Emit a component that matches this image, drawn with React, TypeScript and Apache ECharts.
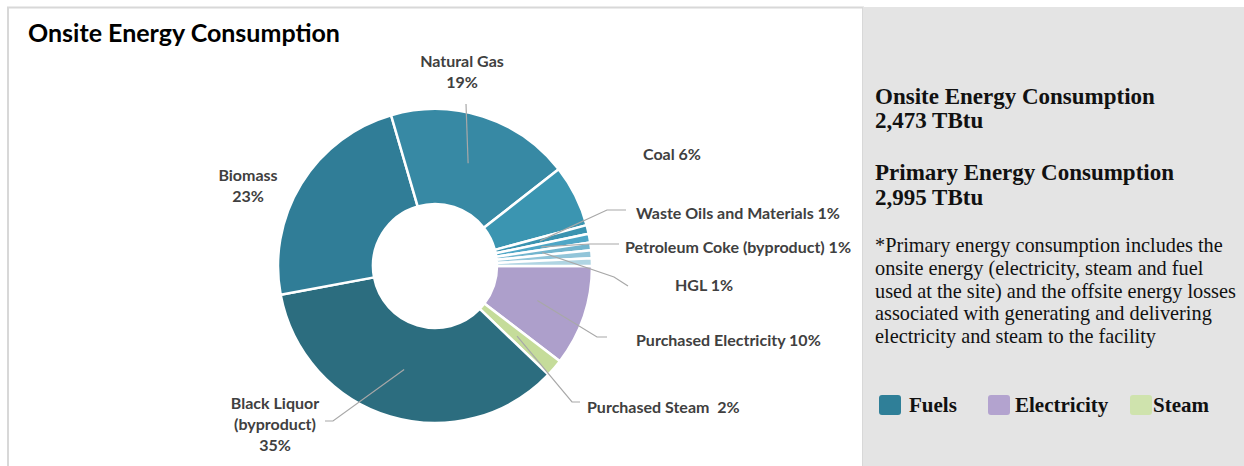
import React, { useEffect, useRef } from "react";
import * as echarts from "echarts";

// ---- data ----
const sliceNames = [
  "Purchased Electricity",
  "Purchased Steam",
  "Black Liquor (byproduct)",
  "Biomass",
  "Natural Gas",
  "Coal",
  "Waste Oils and Materials",
  "Petroleum Coke (byproduct)",
  "HGL",
  "Other A",
  "Other B",
];
const sliceValues = [10.4, 1.8, 35, 23.5, 19, 6.4, 0.9, 0.9, 0.8, 0.8, 0.8];
const sliceLabels = [
  "Purchased Electricity 10%",
  "Purchased Steam  2%",
  "Black Liquor\n(byproduct)\n35%",
  "Biomass\n23%",
  "Natural Gas\n19%",
  "Coal 6%",
  "Waste Oils and Materials 1%",
  "Petroleum Coke (byproduct) 1%",
  "HGL 1%",
  "",
  "",
];
const legendNames = ["Fuels", "Electricity", "Steam"];
const summaryLines = [
  "Onsite Energy Consumption",
  "2,473 TBtu",
  "Primary Energy Consumption",
  "2,995 TBtu",
];
const noteText =
  "*Primary energy consumption includes the\nonsite energy (electricity, steam and fuel\nused at the site) and the offsite energy losses\nassociated with generating and delivering\nelectricity and steam to the facility";

// ---- styles ----
const sliceColors = [
  "#ad9fcb",
  "#c5dc9a",
  "#2c6d7f",
  "#307d97",
  "#3789a4",
  "#3b95b1",
  "#3a93b0",
  "#4ea6c6",
  "#72b5ce",
  "#92c5d9",
  "#b0d5e3",
];
const legendColors = ["#2f7f98", "#b3a3cf", "#cfe3ad"];

const CX = 435;
const CY = 266;
const R_IN = 62;
const R_OUT = 157;
const LINE_R = 108;
const LABEL_FONT = "Lato, 'Open Sans', sans-serif";

// label placement (layout only)
const labelPlacement: any[] = [
  { x: 636, y: 339, align: "left", bend: [[597, 337], [607, 337]] },
  { x: 587, y: 406, align: "left", bend: [[572, 402], [580, 402]] },
  { x: 275, y: 423, align: "center", bend: [[333, 421], [325, 421]] },
  { x: 248, y: 185, align: "center" },
  { x: 462, y: 71, align: "center", bend: [[466, 104]] },
  { x: 643, y: 153, align: "left" },
  { x: 636, y: 212, align: "left", bend: [[607, 210], [626, 210]] },
  { x: 625, y: 246, align: "left", bend: [[590, 244], [619, 244]] },
  { x: 675, y: 284, align: "left", bend: [[614, 277], [628, 286]] },
  null,
  null,
];

const total = sliceValues.reduce((a, b) => a + b, 0);
function midAngle(i: number) {
  let s = 0;
  for (let j = 0; j < i; j++) s += sliceValues[j];
  return ((s + sliceValues[i] / 2) / total) * Math.PI * 2;
}

export default function App() {
  const ref = useRef<HTMLDivElement>(null);
  useEffect(() => {
    if (!ref.current) return;
    const chart = echarts.init(ref.current, undefined, { renderer: "svg" });
    const serif = "'Liberation Serif', 'Times New Roman', serif";
    const graphics: any[] = [
      {
        type: "rect",
        z: -10,
        silent: true,
        shape: { x: 8, y: 7.5, width: 855, height: 470 },
        style: { fill: "#ffffff", stroke: "#d8d8d8", lineWidth: 2 },
      },
      {
        type: "rect",
        z: -9,
        silent: true,
        shape: { x: 863, y: 7, width: 381, height: 459 },
        style: { fill: "#e4e4e4" },
      },
      {
        type: "text",
        x: 28,
        y: 32,
        style: {
          text: "Onsite Energy Consumption",
          font: "bold 25px Lato, 'Open Sans', sans-serif",
          fill: "#000000",
          verticalAlign: "middle",
        },
      },
    ];
    // leader lines, starting at the middle of each slice's ring
    labelPlacement.forEach((cfg, i) => {
      if (!cfg || !cfg.bend) return;
      const a = midAngle(i);
      const start = [CX + LINE_R * Math.cos(a), CY + LINE_R * Math.sin(a)];
      graphics.push({
        type: "polyline",
        z: 50,
        silent: true,
        shape: { points: [start, ...cfg.bend] },
        style: { stroke: "#a8a8a8", lineWidth: 1.2, fill: null },
      });
    });
    const headY = [96, 120, 172, 197];
    summaryLines.forEach((t, i) => {
      graphics.push({
        type: "text",
        x: 875,
        y: headY[i],
        style: {
          text: t,
          font: `bold 23px ${serif}`,
          fill: "#111111",
          verticalAlign: "middle",
        },
      });
    });
    graphics.push({
      type: "text",
      x: 875,
      y: 234,
      style: {
        text: noteText,
        font: `20.3px ${serif}`,
        lineHeight: 22.7,
        fill: "#111111",
        verticalAlign: "top",
      },
    });
    const legX = [879, 988, 1130];
    const legTextX = [909, 1015, 1153];
    legendNames.forEach((n, i) => {
      graphics.push({
        type: "rect",
        shape: { x: legX[i], y: 395, width: 22, height: 20, r: 3 },
        style: { fill: legendColors[i] },
      });
      graphics.push({
        type: "text",
        x: legTextX[i],
        y: 405,
        style: {
          text: n,
          font: `bold 21px ${serif}`,
          fill: "#111111",
          verticalAlign: "middle",
        },
      });
    });

    chart.setOption({
      animation: false,
      backgroundColor: "#ffffff",
      graphic: { elements: graphics },
      series: [
        {
          type: "pie",
          center: [CX, CY],
          radius: [R_IN, R_OUT],
          startAngle: 0,
          clockwise: true,
          avoidLabelOverlap: false,
          silent: true,
          itemStyle: { borderColor: "#ffffff", borderWidth: 2.5 },
          label: {
            show: true,
            position: "outside",
            color: "#404040",
            fontFamily: LABEL_FONT,
            fontWeight: "bold",
            fontSize: 16,
            lineHeight: 21,
            formatter: (p: any) => sliceLabels[p.dataIndex],
          },
          labelLine: { show: false },
          labelLayout: (params: any) => {
            const cfg = labelPlacement[params.dataIndex];
            if (!cfg) return {};
            return {
              x: cfg.x,
              y: cfg.y,
              align: cfg.align,
              verticalAlign: "middle",
            };
          },
          data: sliceNames.map((n, i) => ({
            name: n,
            value: sliceValues[i],
            itemStyle: { color: sliceColors[i] },
            label: { show: sliceLabels[i] !== "" },
          })),
        },
      ],
    });
    return () => chart.dispose();
  }, []);
  return (
    <div
      ref={ref}
      style={{ position: "absolute", left: 0, top: 0, width: 1244, height: 466 }}
    />
  );
}
